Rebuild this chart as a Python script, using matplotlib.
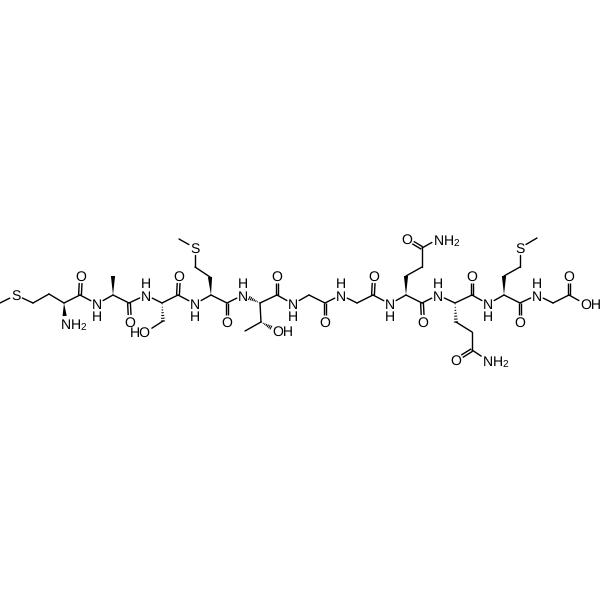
#!/usr/bin/env python3
"""
Peptide skeletal formula drawn on a pixel-sized axes.
"""

import matplotlib

matplotlib.use("Agg")
import matplotlib.pyplot as plt
import numpy as np
from matplotlib.patches import Polygon

plt.rcParams["font.family"] = ["Liberation Sans", "DejaVu Sans"]
plt.rcParams["mathtext.fontset"] = "custom"
plt.rcParams["mathtext.rm"] = "Liberation Sans"
plt.rcParams["mathtext.default"] = "rm"
plt.rcParams["text.hinting"] = "no_hinting"
plt.rcParams["text.hinting_factor"] = 1

# Main chain, from the terminal methyl to the acid OH
backbone_x = [0, 16, 33, 49, 64, 80, 97, 113, 129, 146, 162, 178, 195, 211, 227, 243, 260, 277, 293,
              309, 325, 341, 357, 373, 390, 406, 422, 438, 455, 472, 488, 504, 520, 537, 553, 569, 585]
backbone_y = [303, 295, 303, 294, 303, 295, 304, 295, 303, 295, 303, 295, 304, 295, 303, 295, 303, 295, 304,
              295, 303, 295, 303, 295, 304, 295, 303, 295, 303, 295, 304, 295, 303, 295, 303, 295, 304]
amide_n = [6, 9, 12, 15, 18, 21, 24, 27, 30, 33]
sulfur = [1]
acid_oh = 36
hashed_backbone = [(16, 15)]

# Carbonyl oxygens on the chain
carbonyl_from = [5, 8, 11, 14, 17, 20, 23, 26, 29, 32, 35]
carbonyl_x = [81, 130, 179, 227, 277, 325, 374, 423, 472, 520, 569]
carbonyl_y = [276, 322, 276, 322, 276, 322, 276, 322, 276, 322, 276]

# Side chains: chain atom, first bond style, then the atoms going out
side_from = [4, 7, 10, 13, 16, 25, 28, 31]
side_style = ["wedge", "wedge", "hash", "wedge", "plain", "wedge", "hash", "wedge"]
side_x = [[65], [113], [163, 146], [210, 195, 195, 179], [261, 245], [406, 422, 422], [456, 472, 472], [504, 520, 520, 537]]
side_y = [[323], [276], [321, 332], [277, 267, 248, 239], [322, 331], [276, 267, 248], [322, 332, 350], [276, 267, 248, 238]]
side_labels = [{0: "NH2"}, {}, {1: "HO"}, {2: "S"}, {}, {}, {}, {2: "S"}]

# Threonine hydroxyl
thr_oh_x, thr_oh_y = 277, 331

# Side chain amides: carbon, oxygen, nitrogen
amide_c_x = [422, 472]
amide_c_y = [248, 350]
amide_o_x = [407, 456]
amide_o_y = [239, 360]
amide_nh2_x = [438, 487]
amide_nh2_y = [239, 360]

INK = "#000000"
LW = 1.0
FS = 10.2
GAP = 7.0
HALF_GLYPH = 5.0


def trim(p, q, labelled):
    """Pull bond ends back from the atom labels."""
    p, q = np.array(p, float), np.array(q, float)
    unit = (q - p) / np.linalg.norm(q - p)
    a = p + unit * GAP if tuple(p) in labelled else p
    b = q - unit * GAP if tuple(q) in labelled else q
    return a, b, unit


def draw_plain(ax, p, q, labelled):
    a, b, _ = trim(p, q, labelled)
    ax.plot([a[0], b[0]], [a[1], b[1]], color=INK, lw=LW, solid_capstyle="round")


def draw_double(ax, p, q, labelled):
    a, b, unit = trim(p, q, labelled)
    normal = np.array([-unit[1], unit[0]])
    for side in (-1.4, 1.4):
        ax.plot([a[0] + normal[0] * side, b[0] + normal[0] * side],
                [a[1] + normal[1] * side, b[1] + normal[1] * side],
                color=INK, lw=LW, solid_capstyle="butt")


def draw_wedge(ax, p, q, labelled):
    a, b, unit = trim(p, q, labelled)
    normal = np.array([-unit[1], unit[0]])
    ax.add_patch(Polygon([a, b + normal * 2.1, b - normal * 2.1], closed=True, color=INK, lw=0))


def draw_hash(ax, p, q, labelled):
    a, b, unit = trim(p, q, labelled)
    normal = np.array([-unit[1], unit[0]])
    for t in np.linspace(0.08, 1.0, 7):
        c = a + (b - a) * t
        half = 2.1 * t
        ax.plot([c[0] - normal[0] * half, c[0] + normal[0] * half],
                [c[1] - normal[1] * half, c[1] + normal[1] * half],
                color=INK, lw=0.75, solid_capstyle="butt")


def put_label(ax, x, y, text):
    if text.endswith("2"):
        # anchor the N over the atom, the rest runs to the right
        ax.text(x - HALF_GLYPH, y, text[:-1] + "$_2$", fontsize=FS, color=INK, ha="left", va="center_baseline")
    elif text == "HO":
        ax.text(x + HALF_GLYPH, y, text, fontsize=FS, color=INK, ha="right", va="center_baseline")
    elif text == "OH":
        ax.text(x - HALF_GLYPH, y, text, fontsize=FS, color=INK, ha="left", va="center_baseline")
    else:
        ax.text(x, y, text, fontsize=FS, color=INK, ha="center", va="center_baseline")


def put_nh(ax, x, y):
    # N and its H as one two-line text, H on the side away from the chain
    if y > 300:
        ax.text(x, y - 5.5, "N\nH", fontsize=FS, color=INK, ha="center", va="top",
                linespacing=0.92, multialignment="center")
    else:
        ax.text(x, y + 8.5, "H\nN", fontsize=FS, color=INK, ha="center", va="bottom",
                linespacing=0.92, multialignment="center")


fig = plt.figure(figsize=(6, 6), dpi=100)
ax = fig.add_axes([0, 0, 1, 1])
ax.set_xlim(0, 600)
ax.set_ylim(600, 0)
ax.axis("off")

chain = list(zip(map(float, backbone_x), map(float, backbone_y)))

# Work out every labelled atom first so the bonds can stop short of them
labelled = {chain[i] for i in amide_n + sulfur + [acid_oh]}
labelled |= {(float(x), float(y)) for x, y in zip(carbonyl_x, carbonyl_y)}
labelled |= {(float(x), float(y)) for x, y in zip(amide_o_x, amide_o_y)}
labelled |= {(float(x), float(y)) for x, y in zip(amide_nh2_x, amide_nh2_y)}
labelled.add((float(thr_oh_x), float(thr_oh_y)))
for xs, ys, labels in zip(side_x, side_y, side_labels):
    for i in labels:
        labelled.add((float(xs[i]), float(ys[i])))

# Main chain bonds
for i in range(len(chain) - 1):
    if (i + 1, i) in hashed_backbone:
        draw_hash(ax, chain[i + 1], chain[i], labelled)
    else:
        draw_plain(ax, chain[i], chain[i + 1], labelled)

# Carbonyls
for i, x, y in zip(carbonyl_from, carbonyl_x, carbonyl_y):
    draw_double(ax, chain[i], (x, y), labelled)
    put_label(ax, x, y, "O")

# Side chains
for start, style, xs, ys, labels in zip(side_from, side_style, side_x, side_y, side_labels):
    prev = chain[start]
    for j, (x, y) in enumerate(zip(xs, ys)):
        if j == 0 and style == "wedge":
            draw_wedge(ax, prev, (x, y), labelled)
        elif j == 0 and style == "hash":
            draw_hash(ax, prev, (x, y), labelled)
        else:
            draw_plain(ax, prev, (x, y), labelled)
        prev = (x, y)
    for j, text in labels.items():
        put_label(ax, xs[j], ys[j], text)

# Threonine: plain bond to the methyl comes from side chain, hashed to OH
draw_hash(ax, (side_x[4][0], side_y[4][0]), (thr_oh_x, thr_oh_y), labelled)
put_label(ax, thr_oh_x, thr_oh_y, "OH")

# Side chain amides
for cx, cy, ox, oy, nx, ny in zip(amide_c_x, amide_c_y, amide_o_x, amide_o_y, amide_nh2_x, amide_nh2_y):
    draw_double(ax, (cx, cy), (ox, oy), labelled)
    draw_plain(ax, (cx, cy), (nx, ny), labelled)
    put_label(ax, ox, oy, "O")
    put_label(ax, nx, ny, "NH2")

# Chain labels
for i in sulfur:
    put_label(ax, *chain[i], "S")
for i in amide_n:
    put_nh(ax, *chain[i])
put_label(ax, *chain[acid_oh], "OH")

fig.savefig("out.png", dpi=100)
